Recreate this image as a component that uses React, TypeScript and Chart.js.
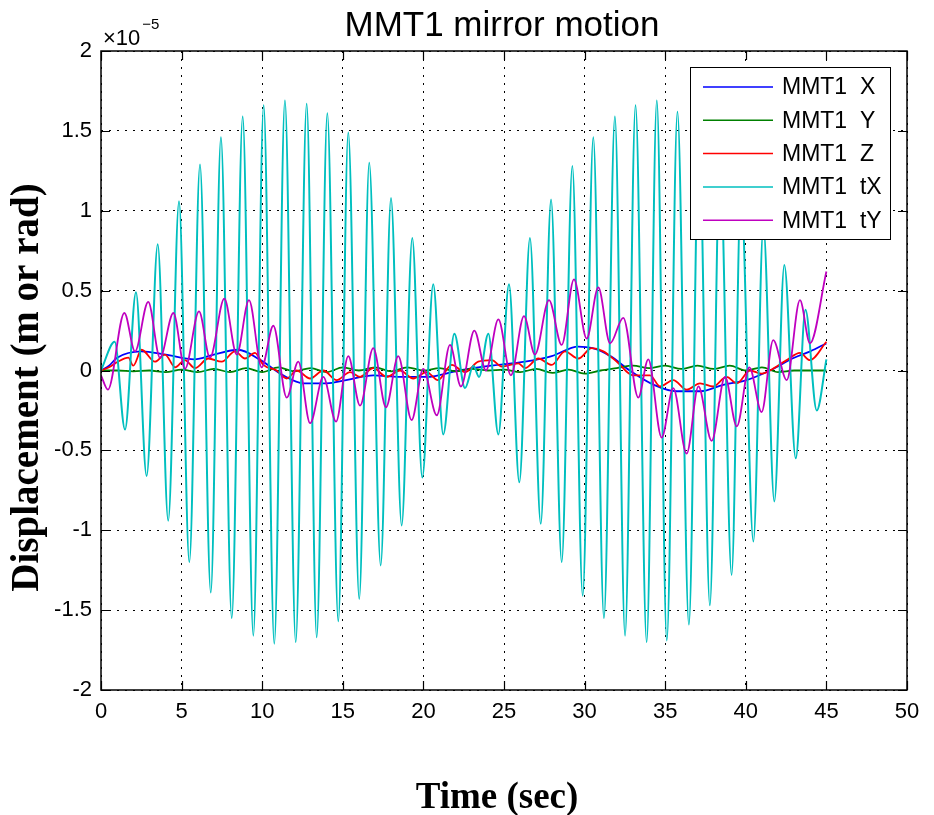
import React, { useEffect, useRef } from "react";
import { Chart, registerables } from "chart.js";

Chart.register(...registerables);

// ---- data (values in units of 1e-5) ----
const xTicks = [0, 5, 10, 15, 20, 25, 30, 35, 40, 45, 50];
const yTicks = [-2, -1.5, -1, -0.5, 0, 0.5, 1, 1.5, 2];
const yTickLabels = ["-2", "-1.5", "-1", "-0.5", "0", "0.5", "1", "1.5", "2"];
const seriesLabels = ["MMT1  X", "MMT1  Y", "MMT1  Z", "MMT1  tX", "MMT1  tY"];
const seriesColors = ["#0000ff", "#008000", "#ff0000", "#00bfbf", "#bf00bf"];

const X_t = [0, 0.5, 1.0, 2.5, 4.0, 5.8, 7.0, 8.5, 9.9, 11.3, 12.55, 14.0, 15.2, 16.9, 18.5, 20.2, 22.2, 24.2, 26.3, 27.96, 29.6, 30.5, 31.6, 32.8, 34.3, 35.7, 37.2, 38.6, 40.05, 41.5, 43.0, 44.0, 45.0];
const X_v = [0, 0.03, 0.08, 0.12, 0.10, 0.07, 0.10, 0.13, 0.065, -0.03, -0.08, -0.08, -0.06, -0.03, -0.04, -0.04, 0.0, 0.03, 0.055, 0.09, 0.15, 0.14, 0.09, 0.0, -0.09, -0.13, -0.13, -0.09, -0.06, 0.0, 0.08, 0.12, 0.17];

const Y_t = [0, 1, 2, 3, 4, 5, 6, 7, 8, 9, 10, 11, 12, 13, 14, 15, 16, 17, 18, 19, 20, 21, 22, 23, 24, 25, 26, 27, 28, 29, 30, 31, 32, 33, 34, 35, 36, 37, 38, 39, 40, 41, 42, 43, 45];
const Y_v = [0, 0.0, -0.005, 0.0, -0.01, 0.005, -0.01, 0.01, -0.01, 0.015, -0.01, 0.02, -0.005, 0.015, -0.01, 0.02, 0.0, 0.02, -0.005, 0.02, 0.0, 0.015, -0.005, 0.01, 0.0, 0.005, -0.01, 0.01, -0.015, 0.005, -0.02, 0.0, 0.015, 0.03, 0.015, 0.03, 0.01, 0.03, 0.01, 0.03, 0.0, 0.02, -0.01, 0.0, 0.0];

const Z_t = [0, 0.5, 1.05, 1.7, 2.0, 2.52, 3.35, 3.97, 4.6, 5.2, 5.83, 6.66, 7.49, 8.31, 8.93, 9.55, 10.07, 10.9, 11.52, 12.14, 12.97, 13.79, 14.62, 15.45, 16.07, 16.89, 17.72, 18.55, 19.37, 20.2, 20.9, 21.76, 22.58, 23.4, 24.24, 24.86, 25.89, 26.3, 27.13, 27.96, 28.78, 29.61, 30.44, 31.16, 32.0, 33.0, 34.06, 34.68, 35.5, 36.33, 37.16, 37.98, 38.81, 39.44, 40.26, 41.0, 41.5, 42.54, 43.36, 43.98, 45.0];
const Z_v = [0, 0.02, 0.055, 0.08, 0.03, 0.13, 0.055, 0.10, 0.02, 0.065, 0.015, 0.075, 0.055, 0.12, 0.075, 0.11, 0.035, 0.0, -0.05, 0.0, -0.05, 0.0, -0.06, -0.01, -0.04, 0.015, -0.04, 0.0, -0.05, -0.01, -0.06, 0.035, -0.01, 0.055, 0.065, 0.025, 0.045, 0.015, 0.075, 0.035, 0.12, 0.075, 0.14, 0.12, 0.055, -0.03, -0.03, -0.10, -0.06, -0.12, -0.08, -0.10, -0.04, -0.08, 0.0, -0.02, 0.0, 0.065, 0.11, 0.065, 0.18];

const tX_t = [0, 0.85, 1.49, 2.17, 2.83, 3.52, 4.17, 4.84, 5.48, 6.14, 6.81, 7.44, 8.11, 8.79, 9.45, 10.09, 10.75, 11.41, 12.08, 12.76, 13.38, 14.04, 14.72, 15.34, 16.02, 16.64, 17.35, 17.99, 18.65, 19.31, 19.93, 20.61, 21.23, 21.92, 22.58, 23.1, 23.45, 24.03, 24.65, 25.31, 25.95, 26.61, 27.28, 27.92, 28.58, 29.24, 29.88, 30.54, 31.2, 31.88, 32.51, 33.16, 33.85, 34.48, 35.1, 35.76, 36.47, 37.1, 37.77, 38.4, 39.12, 39.7, 40.47, 41.09, 41.77, 42.39, 43.1, 43.7, 44.4, 45];
const tX_v = [0, 0.18, -0.37, 0.49, -0.66, 0.79, -0.94, 1.06, -1.20, 1.29, -1.39, 1.46, -1.55, 1.59, -1.66, 1.66, -1.71, 1.69, -1.70, 1.67, -1.67, 1.61, -1.57, 1.49, -1.43, 1.30, -1.22, 1.08, -0.97, 0.83, -0.67, 0.54, -0.40, 0.23, -0.11, 0.03, -0.04, 0.23, -0.40, 0.54, -0.70, 0.83, -0.96, 1.07, -1.20, 1.28, -1.41, 1.46, -1.55, 1.59, -1.66, 1.66, -1.70, 1.69, -1.69, 1.62, -1.59, 1.50, -1.47, 1.33, -1.28, 1.12, -1.07, 0.90, -0.82, 0.66, -0.55, 0.38, -0.25, 0.07];

const tY_t = [0, 0.43, 1.45, 2.11, 2.93, 3.66, 4.49, 5.21, 6.08, 6.76, 7.65, 8.42, 9.18, 9.97, 10.69, 11.52, 12.24, 12.97, 13.79, 14.58, 15.34, 16.07, 16.89, 17.68, 18.44, 19.27, 19.99, 20.83, 21.65, 22.33, 23.16, 23.88, 24.65, 25.43, 26.24, 26.92, 27.79, 28.58, 29.34, 30.13, 30.85, 31.58, 32.4, 33.33, 33.95, 34.78, 35.5, 36.33, 37.06, 37.88, 38.71, 39.44, 40.22, 40.98, 41.7, 42.54, 43.36, 43.98, 45];
const tY_v = [-0.03, -0.12, 0.36, 0.12, 0.43, 0.08, 0.36, 0.01, 0.37, 0.08, 0.45, 0.10, 0.44, 0.02, 0.28, -0.17, 0.055, -0.33, -0.04, -0.32, 0.09, -0.22, 0.14, -0.23, 0.09, -0.31, 0.01, -0.28, 0.16, -0.10, 0.25, 0.0, 0.32, -0.03, 0.34, 0.10, 0.44, 0.16, 0.57, 0.20, 0.52, 0.17, 0.33, -0.17, 0.07, -0.42, -0.11, -0.52, -0.10, -0.44, -0.04, -0.35, 0.02, -0.26, 0.19, -0.06, 0.44, 0.17, 0.62];

const titleText = "MMT1 mirror motion";
const xTitle = "Time (sec)";
const yTitle = "Displacement (m or rad)";

const seriesTimes = [X_t, Y_t, Z_t, tX_t, tY_t];
const seriesValues = [X_v, Y_v, Z_v, tX_v, tY_v];
const seriesWidths = [1.8, 1.8, 1.8, 2, 1.8];

const matlabPlugin = {
  id: "matlabDecor",
  beforeDraw(chart: any) {
    const ctx = chart.ctx;
    ctx.save();
    ctx.fillStyle = "#ffffff";
    ctx.fillRect(0, 0, chart.width, chart.height);
    ctx.restore();
  },
  afterDraw(chart: any) {
    const ctx = chart.ctx;
    const a = chart.chartArea;
    const xs = chart.scales.x;
    const ys = chart.scales.y;
    ctx.save();
    // box
    ctx.strokeStyle = "#000";
    ctx.lineWidth = 1.5;
    ctx.strokeRect(a.left, a.top, a.right - a.left, a.bottom - a.top);
    // inward ticks
    ctx.lineWidth = 1.2;
    const tl = 9;
    ctx.beginPath();
    xTicks.forEach((v) => {
      const p = Math.round(xs.getPixelForValue(v)) + 0.5;
      ctx.moveTo(p, a.bottom);
      ctx.lineTo(p, a.bottom - tl);
      ctx.moveTo(p, a.top);
      ctx.lineTo(p, a.top + tl);
    });
    yTicks.forEach((v) => {
      const p = Math.round(ys.getPixelForValue(v)) + 0.5;
      ctx.moveTo(a.left, p);
      ctx.lineTo(a.left + tl, p);
      ctx.moveTo(a.right, p);
      ctx.lineTo(a.right - tl, p);
    });
    ctx.stroke();

    // title
    ctx.fillStyle = "#000";
    ctx.font = "35px 'Liberation Sans', Arial, sans-serif";
    ctx.textAlign = "center";
    ctx.textBaseline = "alphabetic";
    ctx.fillText(titleText, (a.left + a.right) / 2 - 2, 36);

    // exponent label
    ctx.textAlign = "left";
    ctx.font = "22px 'Liberation Sans', Arial, sans-serif";
    ctx.fillText("\u00d710", a.left + 2, 45);
    const w = ctx.measureText("\u00d710").width;
    ctx.font = "15px 'Liberation Sans', Arial, sans-serif";
    ctx.fillText("\u22125", a.left + 4 + w, 29);

    // x title
    ctx.textAlign = "center";
    ctx.font = "bold 37px 'Liberation Serif', 'Times New Roman', serif";
    ctx.fillText(xTitle, (a.left + a.right) / 2 - 7, 808);

    // y title
    ctx.save();
    ctx.translate(38, (a.top + a.bottom) / 2 + 17);
    ctx.rotate(-Math.PI / 2);
    ctx.font = "bold 39px 'Liberation Serif', 'Times New Roman', serif";
    ctx.textAlign = "center";
    ctx.fillText(yTitle, 0, 0);
    ctx.restore();

    // legend
    const lx = 690, ly = 67, lw = 200, lh = 172;
    ctx.fillStyle = "#fff";
    ctx.fillRect(lx, ly, lw, lh);
    ctx.strokeStyle = "#000";
    ctx.lineWidth = 1;
    ctx.strokeRect(lx + 0.5, ly + 0.5, lw, lh);
    ctx.font = "23px 'Liberation Sans', Arial, sans-serif";
    ctx.textAlign = "left";
    ctx.textBaseline = "middle";
    chart.data.datasets.forEach((ds: any, i: number) => {
      const yy = ly + 20 + i * 33.3;
      ctx.strokeStyle = ds.borderColor;
      ctx.lineWidth = 1.5;
      ctx.beginPath();
      ctx.moveTo(lx + 13, yy);
      ctx.lineTo(lx + 83, yy);
      ctx.stroke();
      ctx.fillStyle = "#000";
      ctx.fillText(ds.label, lx + 92, yy + 1);
    });
    ctx.restore();
  },
};

export default function App() {
  const ref = useRef<HTMLCanvasElement | null>(null);
  useEffect(() => {
    if (!ref.current) return;
    const datasets = seriesLabels.map((label, i) => ({
      label,
      data: seriesTimes[i].map((t, k) => ({ x: t, y: seriesValues[i][k] })),
      borderColor: seriesColors[i],
      backgroundColor: seriesColors[i],
      borderWidth: seriesWidths[i],
      pointRadius: 0,
      tension: 0.4,
      cubicInterpolationMode: "monotone" as const,
      fill: false,
      order: 5 - i,
    }));
    const chart = new Chart(ref.current, {
      type: "line",
      data: { datasets },
      options: {
        responsive: false,
        animation: false,
        devicePixelRatio: 1,
        layout: { padding: { left: 0, right: 27, top: 51, bottom: 0 } },
        plugins: {
          legend: { display: false },
          title: { display: false },
          tooltip: { enabled: false },
        },
        scales: {
          x: {
            type: "linear",
            min: 0,
            max: 50,
            afterFit: (s: any) => {
              s.height = 125;
            },
            afterBuildTicks: (s: any) => {
              s.ticks = xTicks.map((v) => ({ value: v }));
            },
            ticks: {
              padding: 9,
              maxRotation: 0,
              autoSkip: false,
              color: "#000",
              font: { family: "'Liberation Sans', Arial, sans-serif", size: 22 },
              callback: (v: any) => String(v),
            },
            grid: { color: "#000", lineWidth: 1, drawTicks: false },
            border: { display: false, dash: [2, 6] },
          },
          y: {
            type: "linear",
            min: -2,
            max: 2,
            afterFit: (s: any) => {
              s.width = 101;
            },
            afterBuildTicks: (s: any) => {
              s.ticks = yTicks.map((v) => ({ value: v }));
            },
            ticks: {
              padding: 9,
              autoSkip: false,
              color: "#000",
              font: { family: "'Liberation Sans', Arial, sans-serif", size: 22 },
              callback: (v: any) => {
                const idx = yTicks.indexOf(Number(v));
                return idx >= 0 ? yTickLabels[idx] : "";
              },
            },
            grid: { color: "#000", lineWidth: 1, drawTicks: false },
            border: { display: false, dash: [2, 6] },
          },
        },
      },
      plugins: [matlabPlugin],
    });
    return () => chart.destroy();
  }, []);
  return (
    <div style={{ position: "fixed", left: 0, top: 0, width: 934, height: 815, background: "#fff" }}>
      <canvas ref={ref} width={934} height={815} style={{ display: "block" }} />
    </div>
  );
}
